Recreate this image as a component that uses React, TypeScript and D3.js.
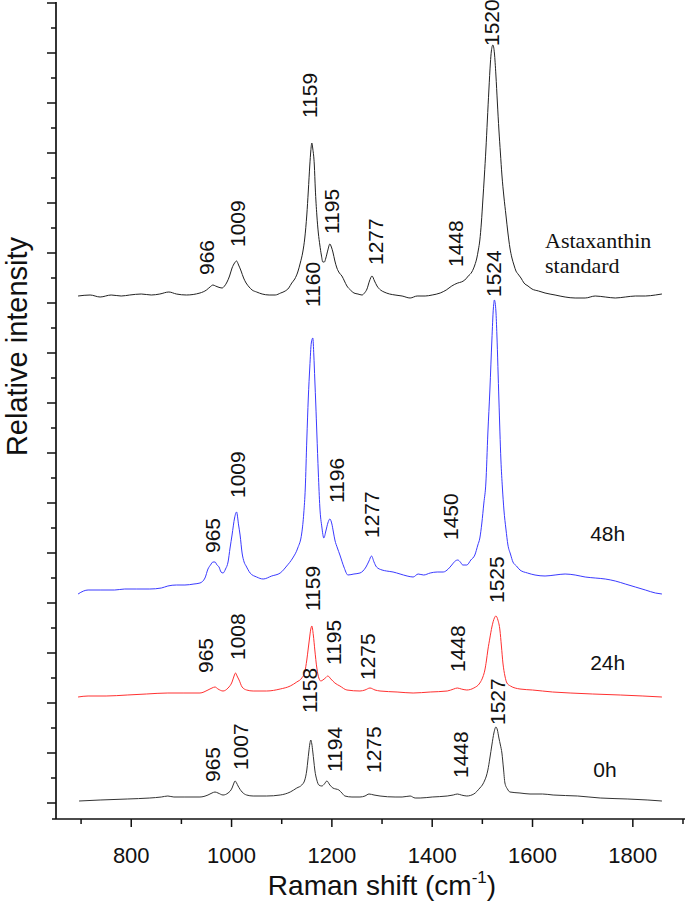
import * as d3 from 'd3';

const WIDTH = 685;
const HEIGHT = 901;
const MARGIN = { left: 56, right: 0, top: 2, bottom: 82 };

type Pt = [number, number];
type PeakLabel = { text: string; at: Pt };

// Raman shift (cm-1) vs. relative intensity, spectra already stacked
const astaxanthin: Pt[] = [
  [694, 507], [718, 508], [738, 506], [760, 508], [780, 507], [797, 508], [820, 509], [840, 508],
  [857, 509], [875, 511], [890, 509], [910, 508], [937, 510], [950, 513], [957, 516], [963, 518],
  [968, 517], [973, 516], [981, 515], [986, 517], [991, 521], [996, 527], [1001, 535], [1006, 540],
  [1010, 542], [1014, 538], [1019, 532], [1024, 525], [1029, 520], [1035, 516], [1041, 513],
  [1050, 511], [1061, 509], [1075, 508], [1087, 508], [1098, 510], [1107, 512], [1114, 515],
  [1120, 520], [1126, 524], [1132, 531], [1137, 540], [1142, 551], [1146, 565], [1150, 588],
  [1153, 612], [1156, 638], [1158, 652], [1160, 660], [1162, 654], [1165, 638], [1167, 614],
  [1170, 588], [1173, 570], [1176, 558], [1179, 548], [1182, 541], [1185, 541], [1188, 545],
  [1192, 553], [1196, 559], [1199, 556], [1202, 551], [1206, 542], [1210, 535], [1215, 530],
  [1220, 527], [1225, 522], [1230, 517], [1237, 513], [1244, 510], [1252, 509], [1260, 508],
  [1265, 510], [1270, 514], [1275, 522], [1280, 527], [1285, 522], [1290, 517], [1297, 513],
  [1304, 511], [1315, 509], [1326, 508], [1340, 507], [1356, 505], [1370, 507], [1386, 507],
  [1400, 508], [1416, 510], [1428, 513], [1439, 517], [1451, 520], [1458, 521], [1465, 523],
  [1472, 527], [1479, 531], [1485, 538], [1489, 545], [1492, 553], [1495, 563], [1498, 580],
  [1501, 603], [1504, 627], [1507, 653], [1510, 683], [1513, 713], [1516, 740], [1518, 752],
  [1521, 758], [1524, 750], [1527, 728], [1530, 700], [1533, 673], [1536, 650], [1539, 628],
  [1543, 606], [1547, 588], [1551, 570], [1555, 555], [1559, 545], [1563, 538], [1567, 532],
  [1571, 529], [1577, 525], [1583, 520], [1591, 517], [1599, 514], [1612, 512], [1625, 510],
  [1645, 508], [1665, 506], [1685, 505], [1705, 505], [1725, 507], [1745, 506], [1765, 505],
  [1785, 506], [1805, 507], [1825, 507], [1845, 508], [1858, 509],
];

const h48: Pt[] = [
  [694, 209], [705, 212], [714, 213], [738, 213], [767, 213], [787, 214], [810, 214], [837, 214],
  [860, 215], [873, 217], [890, 218], [907, 218], [925, 219], [937, 220], [947, 225], [953, 234],
  [958, 238], [963, 241], [967, 241], [971, 238], [975, 236], [979, 231], [983, 230], [988, 234],
  [993, 241], [997, 255], [1001, 268], [1006, 285], [1010, 291], [1014, 278], [1017, 268],
  [1021, 250], [1025, 241], [1029, 237], [1037, 230], [1050, 226], [1063, 224], [1080, 227],
  [1097, 230], [1110, 237], [1122, 245], [1132, 255], [1140, 270], [1144, 290], [1147, 315],
  [1150, 363], [1153, 405], [1156, 436], [1159, 460], [1162, 465], [1164, 448], [1166, 423],
  [1168, 398], [1170, 370], [1173, 330], [1176, 296], [1180, 276], [1184, 265], [1188, 272],
  [1192, 280], [1196, 284], [1200, 279], [1203, 271], [1206, 263], [1211, 255], [1216, 248],
  [1224, 236], [1232, 228], [1244, 229], [1256, 230], [1268, 236], [1274, 242], [1279, 247],
  [1284, 241], [1289, 236], [1300, 233], [1309, 232], [1322, 231], [1336, 229], [1350, 227],
  [1362, 226], [1372, 229], [1383, 228], [1396, 230], [1410, 231], [1422, 231], [1432, 234],
  [1439, 238], [1446, 242], [1451, 243], [1456, 241], [1461, 238], [1469, 238], [1477, 243],
  [1485, 248], [1491, 258], [1495, 265], [1499, 280], [1503, 300], [1507, 320], [1511, 370],
  [1515, 413], [1519, 463], [1522, 495], [1524, 503], [1527, 492], [1529, 468], [1533, 403],
  [1537, 343], [1540, 315], [1543, 293], [1547, 274], [1551, 258], [1556, 249], [1561, 241],
  [1568, 237], [1575, 233], [1590, 230], [1605, 228], [1625, 227], [1645, 228], [1665, 229],
  [1685, 228], [1705, 226], [1725, 225], [1745, 224], [1765, 222], [1785, 219], [1805, 216],
  [1825, 213], [1845, 210], [1858, 209],
];

const h24: Pt[] = [
  [694, 106], [714, 107], [750, 107], [792, 108], [830, 109], [873, 110], [905, 110], [937, 110],
  [953, 113], [961, 115], [967, 116], [973, 114], [983, 112], [993, 115], [1001, 121], [1005, 127],
  [1008, 130], [1011, 127], [1015, 123], [1021, 116], [1030, 113], [1043, 112], [1070, 112],
  [1097, 114], [1117, 117], [1130, 121], [1140, 125], [1146, 131], [1150, 143], [1153, 155],
  [1155, 163], [1158, 174], [1160, 177], [1163, 168], [1166, 153], [1170, 135], [1174, 125],
  [1178, 122], [1182, 123], [1187, 125], [1192, 127], [1198, 124], [1206, 120], [1216, 117],
  [1230, 113], [1256, 112], [1266, 113], [1276, 115], [1286, 113], [1296, 112], [1330, 111],
  [1362, 110], [1396, 111], [1430, 112], [1443, 114], [1450, 115], [1458, 114], [1469, 113],
  [1483, 115], [1495, 120], [1501, 126], [1505, 133], [1508, 142], [1511, 153], [1515, 165],
  [1519, 176], [1524, 185], [1527, 187], [1531, 183], [1535, 173], [1538, 157], [1541, 140],
  [1545, 127], [1549, 120], [1556, 117], [1575, 114], [1600, 113], [1640, 111], [1675, 110],
  [1720, 109], [1775, 108], [1820, 107], [1858, 106],
];

const h0: Pt[] = [
  [696, 2], [738, 3], [792, 4], [837, 5], [860, 6], [873, 7], [885, 6], [907, 6], [937, 6],
  [953, 8], [961, 10], [967, 11], [973, 10], [983, 8], [993, 10], [1001, 15], [1004, 19],
  [1007, 22], [1010, 20], [1013, 17], [1021, 11], [1030, 8], [1043, 7], [1070, 7], [1097, 8],
  [1117, 11], [1130, 15], [1140, 18], [1146, 23], [1150, 33], [1152, 42], [1154, 51], [1156, 59],
  [1158, 63], [1160, 59], [1162, 51], [1164, 42], [1166, 33], [1170, 23], [1174, 18], [1180, 17],
  [1185, 19], [1190, 22], [1196, 18], [1202, 15], [1208, 14], [1214, 13], [1220, 10], [1226, 7],
  [1240, 6], [1256, 6], [1266, 7], [1274, 9], [1284, 8], [1296, 7], [1326, 6], [1340, 6], [1356, 7],
  [1366, 5], [1376, 5], [1400, 6], [1430, 7], [1442, 8], [1450, 9], [1458, 8], [1469, 7],
  [1483, 9], [1495, 15], [1500, 18], [1505, 23], [1508, 27], [1511, 33], [1515, 45], [1519, 58],
  [1523, 70], [1527, 76], [1530, 73], [1533, 65], [1536, 58], [1539, 50], [1542, 35], [1545, 20],
  [1550, 14], [1555, 11], [1575, 10], [1595, 9], [1620, 9], [1641, 8], [1690, 7], [1735, 5],
  [1790, 4], [1830, 3], [1858, 2],
];

const stdLabels: PeakLabel[] = [
  { text: '966', at: [951, 528] },
  { text: '1009', at: [1011, 556] },
  { text: '1159', at: [1156, 685] },
  { text: '1195', at: [1200, 569] },
  { text: '1277', at: [1286, 538] },
  { text: '1448', at: [1447, 536] },
  { text: '1520', at: [1519, 757] },
];
const h48Labels: PeakLabel[] = [
  { text: '965', at: [963, 250] },
  { text: '1009', at: [1011, 305] },
  { text: '1160', at: [1162, 496] },
  { text: '1196', at: [1210, 300] },
  { text: '1277', at: [1278, 265] },
  { text: '1450', at: [1437, 263] },
  { text: '1524', at: [1523, 506] },
];
const h24Labels: PeakLabel[] = [
  { text: '965', at: [949, 130] },
  { text: '1008', at: [1011, 143] },
  { text: '1159', at: [1162, 192] },
  { text: '1195', at: [1204, 138] },
  { text: '1275', at: [1272, 123] },
  { text: '1448', at: [1451, 131] },
  { text: '1525', at: [1529, 200] },
];
const h0Labels: PeakLabel[] = [
  { text: '965', at: [963, 21] },
  { text: '1007', at: [1017, 33] },
  { text: '1158', at: [1156, 90] },
  { text: '1194', at: [1206, 31] },
  { text: '1275', at: [1282, 30] },
  { text: '1448', at: [1457, 25] },
  { text: '1527', at: [1531, 78] },
];

const seriesNames = ['std', '48h', '24h', '0h'];
const seriesData: Pt[][] = [astaxanthin, h48, h24, h0];
const seriesLabels: PeakLabel[][] = [stdLabels, h48Labels, h24Labels, h0Labels];
const seriesColors: Record<string, string> = {
  std: '#222',
  '48h': '#3a3aff',
  '24h': '#ff3030',
  '0h': '#333',
};

// sample names: text lines and their anchor (wavenumber, intensity)
const sampleNames: { lines: string[]; at: Pt[]; serif: boolean }[] = [
  { lines: ['Astaxanthin', 'standard'], at: [[1625, 555], [1625, 530]], serif: true },
  { lines: ['48h'], at: [[1715, 262]], serif: false },
  { lines: ['24h'], at: [[1715, 133]], serif: false },
  { lines: ['0h'], at: [[1721, 26]], serif: false },
];

const xMajorTicks = [800, 1000, 1200, 1400, 1600, 1800];
const xMinorTicks = [700, 900, 1100, 1300, 1500, 1700, 1900];

const SANS = '"Liberation Sans", Arial, sans-serif';
const SERIF = '"Liberation Serif", "Times New Roman", serif';

export default function App() {
  const x = d3
    .scaleLinear()
    .domain([650, 1904])
    .range([MARGIN.left, WIDTH - MARGIN.right]);
  const y = d3
    .scaleLinear()
    .domain([-16, 801])
    .range([HEIGHT - MARGIN.bottom, MARGIN.top]);

  const line = d3
    .line<Pt>()
    .x((d) => x(d[0]))
    .y((d) => y(d[1]))
    .curve(d3.curveMonotoneX);

  const yTicks = d3.range(0, 801, 25);
  const axisY = y(-16);

  return (
    <svg
      width={WIDTH}
      height={HEIGHT}
      style={{ position: 'absolute', left: 0, top: 0, background: '#fff' }}
      fontFamily={SANS}
    >
      {seriesData.map((pts, i) => (
        <path
          key={seriesNames[i]}
          d={line(pts) ?? ''}
          fill='none'
          stroke={seriesColors[seriesNames[i]]}
          strokeWidth={1}
          strokeLinejoin='round'
        />
      ))}

      {seriesLabels.map((labels, i) =>
        labels.map((l) => (
          <text
            key={`${seriesNames[i]}-${l.text}`}
            transform={`translate(${x(l.at[0]) + 7.5},${y(l.at[1])}) rotate(-90)`}
            fontSize={21}
            fill='#111'
          >
            {l.text}
          </text>
        ))
      )}

      {sampleNames.map((s) =>
        s.lines.map((ln, j) => (
          <text
            key={ln}
            x={x(s.at[j][0])}
            y={y(s.at[j][1])}
            fontSize={s.serif ? 22 : 21}
            fontFamily={s.serif ? SERIF : SANS}
            fill='#111'
          >
            {ln}
          </text>
        ))
      )}

      {/* y axis */}
      <line x1={x(650)} x2={x(650)} y1={MARGIN.top} y2={axisY} stroke='#111' strokeWidth={1.7} />
      {yTicks.map((t) => (
        <line
          key={t}
          x1={x(650) - (t % 50 === 0 ? 9 : 5)}
          x2={x(650)}
          y1={y(t)}
          y2={y(t)}
          stroke='#111'
          strokeWidth={1.5}
        />
      ))}

      {/* x axis */}
      <line x1={x(650) - 4} x2={x(1904)} y1={axisY} y2={axisY} stroke='#111' strokeWidth={1.7} />
      {xMajorTicks.map((t) => (
        <g key={t}>
          <line x1={x(t)} x2={x(t)} y1={axisY} y2={axisY + 8} stroke='#111' strokeWidth={1.5} />
          <text x={x(t)} y={axisY + 44} textAnchor='middle' fontSize={22} fill='#111'>
            {t}
          </text>
        </g>
      ))}
      {xMinorTicks.map((t) => (
        <line key={t} x1={x(t)} x2={x(t)} y1={axisY} y2={axisY + 5} stroke='#111' strokeWidth={1.5} />
      ))}

      <text x={382} y={895} textAnchor='middle' fontSize={28} fill='#111'>
        Raman shift (cm
        <tspan dy={-12} fontSize={17}>
          -1
        </tspan>
        <tspan dy={12}>)</tspan>
      </text>
      <text
        transform={`translate(27,${(MARGIN.top + axisY) / 2 - 64}) rotate(-90)`}
        textAnchor='middle'
        fontSize={29}
        fill='#111'
      >
        Relative intensity
      </text>
    </svg>
  );
}
